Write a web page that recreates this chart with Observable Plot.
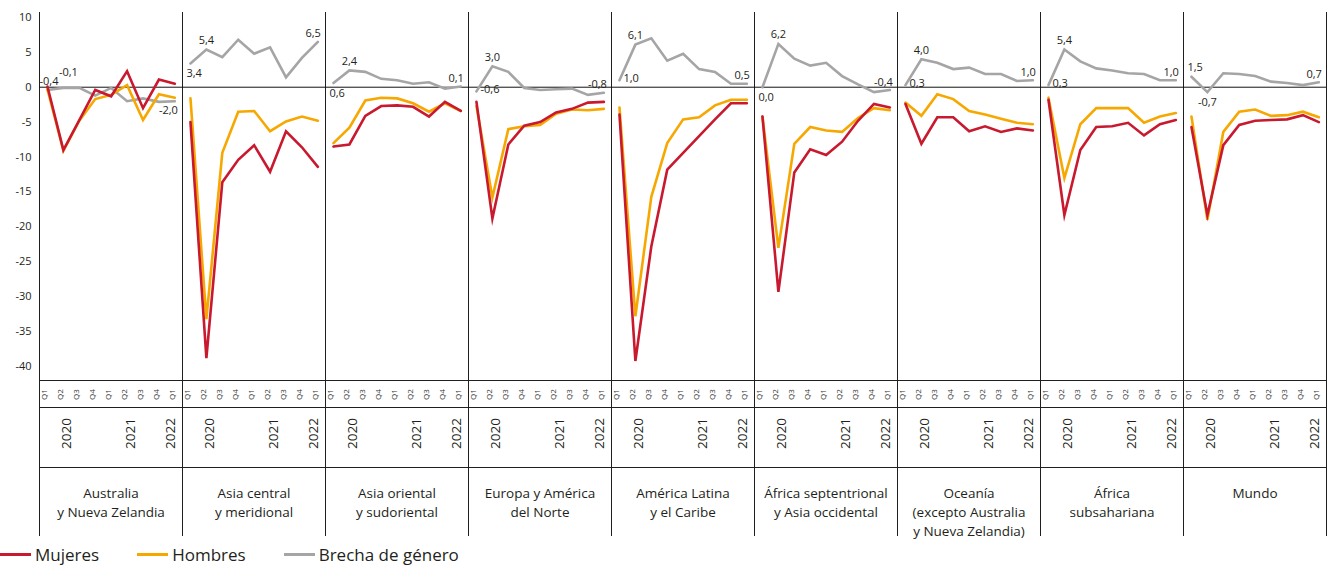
<!DOCTYPE html>
<html>
<head>
<meta charset="utf-8">
<script src="https://cdn.jsdelivr.net/npm/d3@7"></script>
<script src="https://cdn.jsdelivr.net/npm/@observablehq/plot@0.6"></script>
<style>
  html, body { margin: 0; padding: 0; background: #fff; }
  #wrap { position: relative; width: 1335px; height: 567px; overflow: hidden; font-family: 'Open Sans', sans-serif; color: #231f20; }
  #chart { position: absolute; left: 0; top: 0; }
  #legend { position: absolute; left: 0; top: 543px; display: flex; align-items: center; font-size: 17px; line-height: 23px; height: 23px; white-space: nowrap; }
  #legend .sw { display: inline-block; width: 31px; height: 2.6px; margin-right: 4px; }
  #legend .item { display: flex; align-items: center; margin-right: 38px; }
</style>
</head>
<body>
<div id="wrap"><div id="chart"></div><div id="legend"></div></div>
<script>
// ---------- data ----------
const regions = [
  "Australia y Nueva Zelandia",
  "Asia central y meridional",
  "Asia oriental y sudoriental",
  "Europa y América del Norte",
  "América Latina y el Caribe",
  "África septentrional y Asia occidental",
  "Oceanía (excepto Australia y Nueva Zelandia)",
  "África subsahariana",
  "Mundo"
];
const regionLabels = [
  "Australia\ny Nueva Zelandia",
  "Asia central\ny meridional",
  "Asia oriental\ny sudoriental",
  "Europa y América\ndel Norte",
  "América Latina\ny el Caribe",
  "África septentrional\ny Asia occidental",
  "Oceanía\n(excepto Australia\ny Nueva Zelandia)",
  "África\nsubsahariana",
  "Mundo"
];
const quarters = ["Q1", "Q2", "Q3", "Q4", "Q1", "Q2", "Q3", "Q4", "Q1"];
const years    = [2020, 2020, 2020, 2020, 2021, 2021, 2021, 2021, 2022];
const yTicks   = [10, 5, 0, -5, -10, -15, -20, -25, -30, -35, -40];

const mujeres = [
  [0.1, -9.0, -4.7, -0.4, -1.3, 2.3, -3.0, 1.1, 0.5],
  [-5.0, -38.8, -13.6, -10.4, -8.3, -12.1, -6.3, -8.6, -11.4],
  [-8.5, -8.2, -4.1, -2.7, -2.6, -2.8, -4.2, -2.1, -3.4],
  [-2.1, -18.8, -8.2, -5.5, -5.0, -3.6, -3.1, -2.2, -2.1],
  [-3.9, -39.2, -22.8, -11.8, -9.4, -7.0, -4.6, -2.3, -2.3],
  [-4.2, -29.3, -12.2, -8.9, -9.7, -7.8, -4.8, -2.4, -2.9],
  [-2.4, -8.1, -4.3, -4.3, -6.3, -5.6, -6.4, -5.9, -6.2],
  [-1.8, -18.3, -9.0, -5.7, -5.6, -5.1, -6.9, -5.3, -4.7],
  [-5.7, -18.3, -8.3, -5.4, -4.8, -4.7, -4.6, -4.0, -5.0]
];
const hombres = [
  [-0.3, -9.1, -4.8, -1.7, -1.1, 0.3, -4.7, -1.0, -1.5],
  [-1.6, -33.2, -9.4, -3.5, -3.4, -6.3, -4.9, -4.2, -4.8],
  [-8.0, -5.8, -1.9, -1.5, -1.6, -2.3, -3.5, -2.3, -3.4],
  [-2.7, -15.8, -6.0, -5.6, -5.4, -3.8, -3.2, -3.3, -3.1],
  [-2.9, -32.8, -15.7, -8.0, -4.6, -4.3, -2.6, -1.8, -1.8],
  [-4.2, -23.0, -8.1, -5.7, -6.2, -6.4, -4.4, -3.0, -3.3],
  [-2.2, -4.1, -1.0, -1.7, -3.4, -3.9, -4.5, -5.1, -5.3],
  [-1.5, -13.0, -5.3, -3.0, -3.0, -3.0, -5.1, -4.2, -3.7],
  [-4.2, -19.0, -6.4, -3.5, -3.2, -4.1, -4.0, -3.5, -4.3]
];
const brecha = [
  [-0.4, -0.1, -0.1, -1.2, -0.1, -2.0, -1.6, -2.1, -2.0],
  [3.4, 5.4, 4.3, 6.8, 4.8, 5.7, 1.4, 4.2, 6.5],
  [0.6, 2.4, 2.2, 1.2, 1.0, 0.5, 0.7, -0.2, 0.1],
  [-0.6, 3.0, 2.2, -0.1, -0.4, -0.3, -0.2, -1.1, -0.8],
  [1.0, 6.1, 7.0, 3.8, 4.8, 2.6, 2.2, 0.5, 0.5],
  [0.0, 6.2, 4.1, 3.1, 3.5, 1.6, 0.4, -0.7, -0.4],
  [0.3, 4.0, 3.5, 2.6, 2.8, 1.9, 1.9, 0.9, 1.0],
  [0.3, 5.4, 3.7, 2.7, 2.4, 2.0, 1.9, 1.0, 1.0],
  [1.5, -0.7, 2.0, 1.9, 1.6, 0.8, 0.6, 0.3, 0.7]
];
const seriesNames  = ["Mujeres", "Hombres", "Brecha de género"];
const seriesColors = ["#c8192e", "#f7a800", "#a5a5a5"];
// placement of the first gap label in each panel (style)
const firstPlacement = ["above", "below", "below", "right", "right", "below", "right", "right", "above"];

// ---------- build tables ----------
const T = quarters.map((q, i) => years[i] + (+q[1] - 1) / 4);
const rows = [];
regions.forEach((r, ri) => {
  T.forEach((t, qi) => rows.push({
    region: r, t, q: quarters[qi], year: years[qi],
    mujeres: mujeres[ri][qi], hombres: hombres[ri][qi], brecha: brecha[ri][qi]
  }));
});
const yearRows = [];
regions.forEach(r => {
  d3.groups(rows.filter(d => d.region === r), d => d.year)
    .forEach(([y, ds]) => yearRows.push({region: r, year: String(y), t: d3.mean(ds, d => d.t)}));
});
const regionRows = regions.map((r, i) => ({region: r, label: regionLabels[i]}));

const fmt = v => v.toFixed(1).replace(".", ",");
const labelRows = [];
regions.forEach((r, ri) => {
  const g = brecha[ri], m = mujeres[ri], h = hombres[ri], n = g.length - 1;
  const fp = firstPlacement[ri];
  const q2min = g[1] < g[0] && g[1] < g[2];
  const crowd = fp === "above" && !q2min;   // first and second labels both above
  labelRows.push({region: r, t: T[0], v: g[0], anchor: "start",
    dx: fp === "right" ? 4 : (crowd ? -8 : -4), dy: fp === "above" ? -9 : fp === "below" ? 10 : -2});
  labelRows.push({region: r, t: T[1], v: g[1], anchor: "middle",
    dx: crowd ? 5 : 0, dy: q2min ? 10 : (crowd ? -15 : -9)});
  const lastLow = g[n] < m[n] && g[n] < h[n];
  labelRows.push({region: r, t: T[n], v: g[n], anchor: "end", dx: 3, dy: lastLow ? 9 : -8});
});
const labelMarks = d3.groups(labelRows, d => `${d.anchor}|${d.dx}|${d.dy}`).map(([k, ds]) =>
  Plot.text(ds, {x: "t", y: "v", fx: "region", text: d => fmt(d.v),
    textAnchor: ds[0].anchor, dx: ds[0].dx, dy: ds[0].dy, fontSize: 11, fill: "#231f20"}));

const frameColor = "#1f1f1f";
const lineOpts = {x: "t", fx: "region", strokeWidth: 2.6, strokeLinejoin: "miter", strokeMiterlimit: 6};

const chart = Plot.plot({
  width: 1335,
  height: 545,
  marginTop: 12,
  marginBottom: 165,
  marginLeft: 36,
  marginRight: 6,
  style: {fontFamily: "'Open Sans', sans-serif", fontSize: "11px", color: "#231f20", background: "white"},
  fx: {domain: regions, padding: 0, axis: null},
  x: {domain: [2020 - 0.125, 2022 + 0.12], axis: null},
  y: {domain: [-42, 10.7], axis: null},
  marks: [
    Plot.frame({anchor: "left", insetBottom: -155, stroke: frameColor}),
    Plot.frame({anchor: "right", insetBottom: -155, stroke: frameColor}),
    Plot.frame({anchor: "bottom", stroke: frameColor}),
    Plot.frame({anchor: "bottom", insetBottom: -27, stroke: frameColor}),
    Plot.frame({anchor: "bottom", insetBottom: -87, stroke: frameColor}),
    Plot.ruleY([0], {stroke: "#111", strokeWidth: 1}),
    Plot.axisY({ticks: yTicks, tickSize: 0, tickPadding: 8, tickFormat: d => String(d), label: null, fontSize: 11}),
    Plot.line(rows, {...lineOpts, y: "brecha", stroke: seriesColors[2]}),
    Plot.line(rows, {...lineOpts, y: "hombres", stroke: seriesColors[1]}),
    Plot.line(rows, {...lineOpts, y: "mujeres", stroke: seriesColors[0]}),
    ...labelMarks,
    Plot.text(rows, {x: "t", fx: "region", text: "q", frameAnchor: "bottom", dy: 14, rotate: -90, fontSize: 8, fill: "#333"}),
    Plot.text(yearRows, {x: "t", fx: "region", text: "year", frameAnchor: "bottom", dy: 53, rotate: -90, fontSize: 13.5, fill: "#231f20"}),
    Plot.text(regionRows, {fx: "region", text: "label", frameAnchor: "bottom", dy: 104, lineAnchor: "top", lineHeight: 1.4, fontSize: 13.5, fill: "#231f20"})
  ]
});
document.getElementById("chart").appendChild(chart);

const legend = document.getElementById("legend");
seriesNames.forEach((name, i) => {
  const item = document.createElement("span");
  item.className = "item";
  const sw = document.createElement("span");
  sw.className = "sw";
  sw.style.background = seriesColors[i];
  const tx = document.createElement("span");
  tx.textContent = name;
  item.appendChild(sw); item.appendChild(tx);
  legend.appendChild(item);
});
</script>
</body>
</html>
